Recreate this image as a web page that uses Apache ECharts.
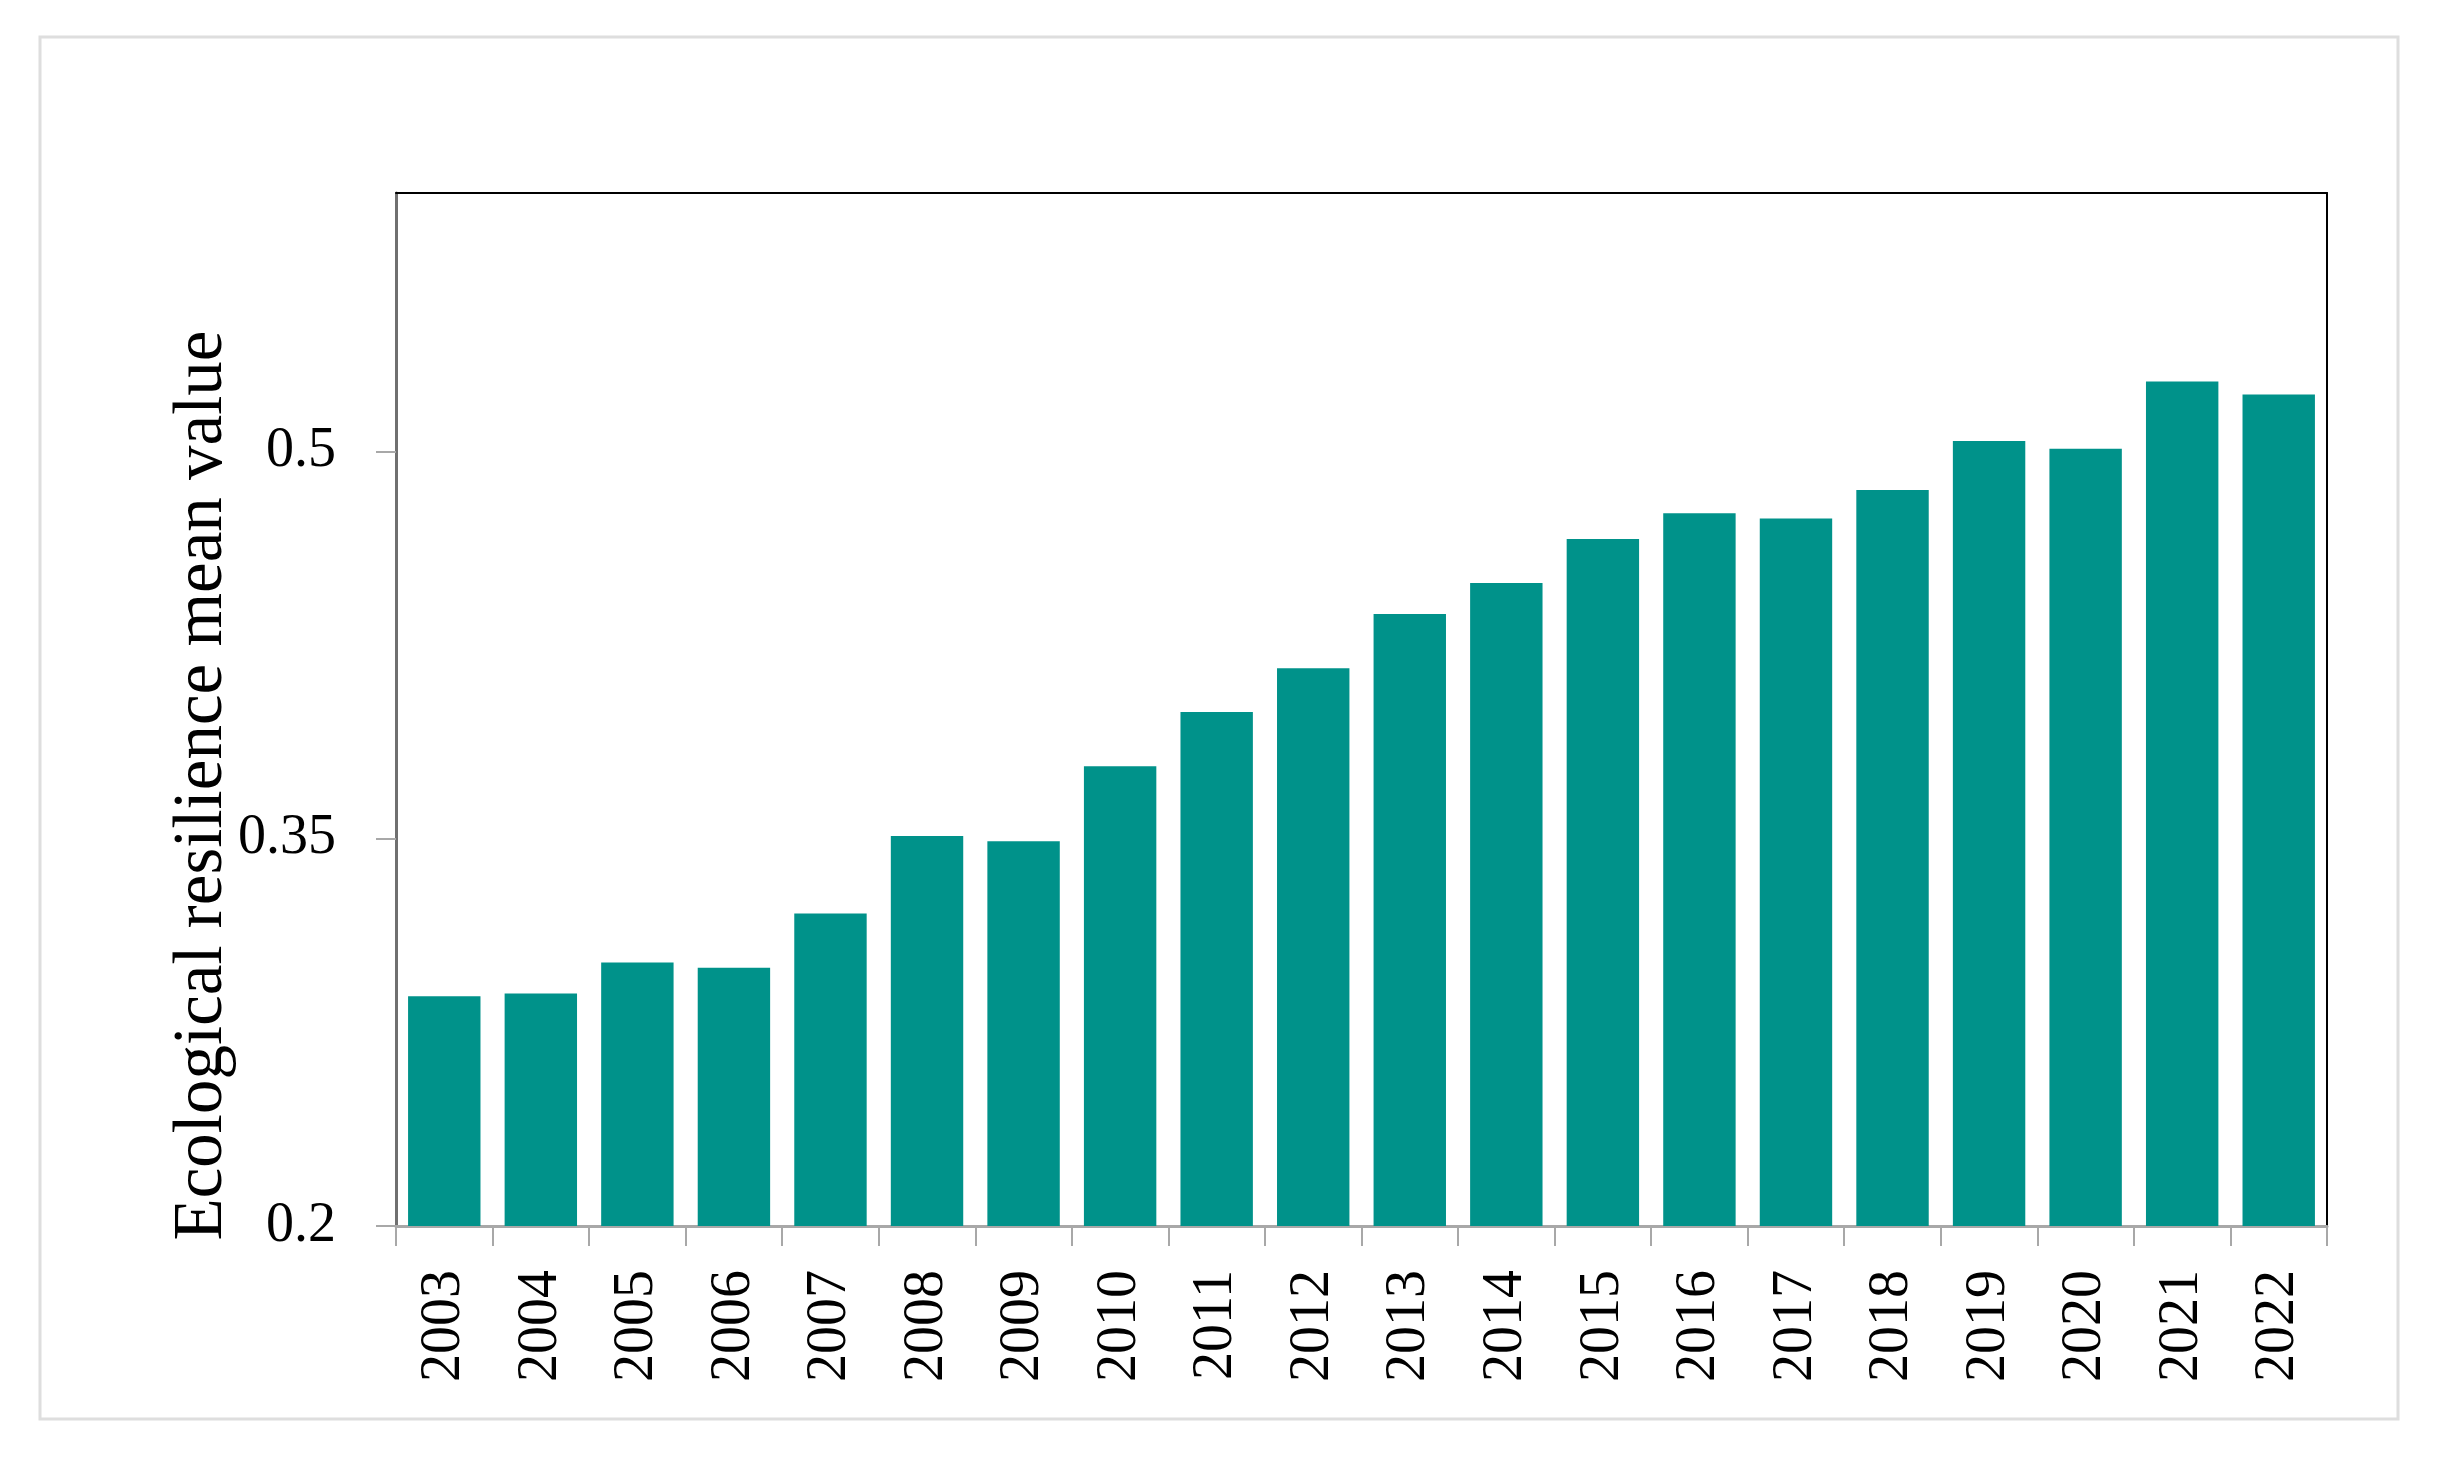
<!DOCTYPE html>
<html>
<head>
<meta charset="utf-8">
<script src="https://cdn.jsdelivr.net/npm/echarts@6/dist/echarts.min.js"></script>
<style>
html,body{margin:0;padding:0;background:#fff;}
#chart{width:2443px;height:1464px;}
</style>
</head>
<body>
<div id="chart"></div>
<script>
const years = ['2003','2004','2005','2006','2007','2008','2009','2010','2011','2012',
               '2013','2014','2015','2016','2017','2018','2019','2020','2021','2022'];
const meanValues = [0.289,0.290,0.302,0.300,0.321,0.351,0.349,0.378,0.399,0.416,
                    0.437,0.449,0.466,0.476,0.474,0.485,0.504,0.501,0.527,0.522];
const yTickValues = [0.2, 0.35, 0.5];
const yAxisTitle = 'Ecological resilience mean value';

const FONT = '"Liberation Serif", "Times New Roman", serif';
const chart = echarts.init(document.getElementById('chart'), null, {renderer:'canvas'});
chart.setOption({
  backgroundColor:'#fff',
  animation:false,
  graphic:[{
    type:'rect', z:-10,
    shape:{x:40, y:37, width:2358, height:1382},
    style:{fill:'#fff', stroke:'#dedede', lineWidth:3}
  }],
  grid:{left:396, right:116, top:193, bottom:238},
  xAxis:[{
    type:'category', data:years, position:'bottom',
    axisLine:{lineStyle:{color:'#a8a8a8', width:3}},
    axisTick:{show:true, length:20, lineStyle:{color:'#a8a8a8', width:2}},
    axisLabel:{rotate:90, margin:44, fontSize:56, color:'#000', fontFamily:FONT},
    splitLine:{show:false}
  },{
    type:'category', data:years, position:'top',
    axisLine:{lineStyle:{color:'#000', width:2}},
    axisTick:{show:false}, axisLabel:{show:false}, splitLine:{show:false}
  }],
  yAxis:[{
    type:'value', min:0.2, max:0.6, position:'left',
    name:yAxisTitle, nameLocation:'middle', nameGap:159, nameRotate:90,
    nameMoveOverlap:false,
    nameTextStyle:{fontSize:69, color:'#000', fontFamily:FONT, padding:[0,152,0,0]},
    axisLine:{show:true, lineStyle:{color:'#707070', width:3}},
    axisTick:{show:true, length:20, customValues:yTickValues, lineStyle:{color:'#a8a8a8', width:2}},
    axisLabel:{margin:60, fontSize:56, color:'#000', fontFamily:FONT, customValues:yTickValues},
    splitLine:{show:false}
  },{
    type:'value', min:0.2, max:0.6, position:'right',
    axisLine:{show:true, lineStyle:{color:'#000', width:2}},
    axisTick:{show:false}, axisLabel:{show:false}, splitLine:{show:false}
  }],
  series:[{
    type:'bar', data:meanValues, barCategoryGap:'25%',
    itemStyle:{color:'#00928A'}
  }]
});
</script>
</body>
</html>
